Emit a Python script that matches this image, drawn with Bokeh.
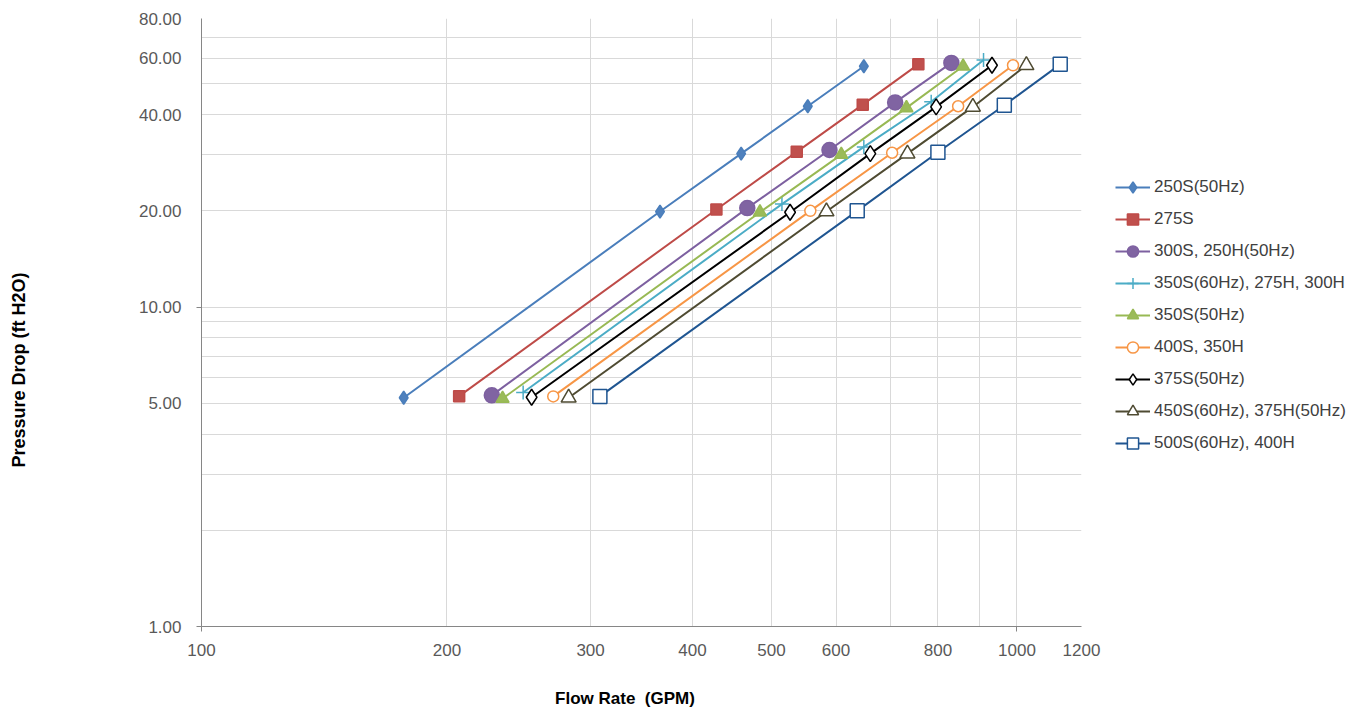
import math
from bokeh.plotting import figure
from bokeh.models import Range1d, FixedTicker, NumeralTickFormatter, Legend, LegendItem
from bokeh.embed import file_html
from bokeh.resources import INLINE

# ---- data ----
series_names = [
    "250S(50Hz)", "275S", "300S, 250H(50Hz)", "350S(60Hz), 275H, 300H",
    "350S(50Hz)", "400S, 350H", "375S(50Hz)", "450S(60Hz), 375H(50Hz)",
    "500S(60Hz), 400H",
]
flow_250S_50 = [177, 365, 459, 554, 649]
flow_275S = [207, 428, 537, 647, 757]
flow_300S = [227, 467, 589, 709, 831]
flow_350S_60 = [248, 515, 649, 785, 910]
flow_350S_50 = [234, 484, 609, 732, 859]
flow_400S = [270, 558, 703, 847, 989]
flow_375S_50 = [254, 527, 661, 796, 932]
flow_450S_60 = [282, 584, 734, 883, 1027]
flow_500S_60 = [308, 637, 800, 965, 1130]

dp_250S_50 = [5.20, 19.9, 30.2, 42.5, 56.7]
dp_275S = [5.26, 20.2, 30.6, 43.0, 57.5]
dp_300S = [5.29, 20.4, 31.0, 43.7, 58.1]
dp_350S_60 = [5.40, 21.0, 31.7, 43.9, 59.3]
dp_350S_50 = [5.17, 19.8, 30.0, 42.0, 56.7]
dp_400S = [5.25, 20.0, 30.4, 42.5, 57.1]
dp_375S_50 = [5.22, 19.8, 30.2, 42.3, 57.1]
dp_450S_60 = [5.20, 19.9, 30.2, 42.3, 57.1]
dp_500S_60 = [5.25, 20.0, 30.5, 42.8, 57.5]

x_tick_values = [100, 200, 300, 400, 500, 600, 800, 1000, 1200]
y_tick_values = [1, 5, 10, 20, 40, 60, 80]
x_grid_values = [200, 300, 400, 500, 600, 700, 800, 900, 1000, 1200]
y_grid_values = [2, 3, 4, 5, 6, 7, 8, 9, 10, 20, 30, 40, 50, 60, 70, 80]

x_title = "Flow Rate \u00a0(GPM)"
y_title = "Pressure Drop (ft H2O)"

flows = [flow_250S_50, flow_275S, flow_300S, flow_350S_60, flow_350S_50,
         flow_400S, flow_375S_50, flow_450S_60, flow_500S_60]
drops = [dp_250S_50, dp_275S, dp_300S, dp_350S_60, dp_350S_50,
         dp_400S, dp_375S_50, dp_450S_60, dp_500S_60]

# ---- styles ----
styles = [
    dict(color="#4A7EBB", marker="diamond", size=13, fill="#4F81BD"),
    dict(color="#BE4B48", marker="square", size=11, fill="#C0504D"),
    dict(color="#7D60A0", marker="circle", size=15, fill="#8064A2"),
    dict(color="#4BACC6", marker="cross", size=14, fill=None),
    dict(color="#98B954", marker="triangle", size=13, fill="#9BBB59"),
    dict(color="#F79646", marker="circle", size=11, fill="white"),
    dict(color="#000000", marker="diamond", size=16, fill="white"),
    dict(color="#4F4B32", marker="triangle", size=15, fill="white"),
    dict(color="#1F5591", marker="square", size=14, fill="white"),
]

p = figure(frame_width=880, frame_height=608, x_axis_type="log", y_axis_type="log",
           x_range=Range1d(100, 1200), y_range=Range1d(1, 80),
           output_backend="svg", toolbar_location=None,
           min_border_left=201, min_border_right=0,
           min_border_top=18, min_border_bottom=86)
p.outline_line_color = None
p.background_fill_color = "white"

# grids
p.xgrid.ticker = FixedTicker(ticks=x_grid_values)
p.ygrid.ticker = FixedTicker(ticks=y_grid_values)
for g in (p.xgrid, p.ygrid):
    g.grid_line_color = "#D9D9D9"
    g.grid_line_width = 1

# axes
p.xaxis.ticker = FixedTicker(ticks=x_tick_values, minor_ticks=[100, 1000])
p.yaxis.ticker = FixedTicker(ticks=y_tick_values, minor_ticks=[1, 10])
p.xaxis.formatter = NumeralTickFormatter(format="0")
p.yaxis.formatter = NumeralTickFormatter(format="0.00")
for ax in (p.xaxis, p.yaxis):
    ax.axis_line_color = "#868686"
    ax.axis_line_width = 1
    ax.major_tick_line_color = None
    ax.major_tick_out = 0
    ax.major_tick_in = 0
    ax.minor_tick_line_color = "#868686"
    ax.minor_tick_out = 5
    ax.minor_tick_in = 0
    ax.major_label_text_font = "Liberation Sans"
    ax.major_label_text_font_size = "17px"
    ax.major_label_text_color = "#595959"
    ax.axis_label_text_font = "Liberation Sans"
    ax.axis_label_text_font_style = "bold"
    ax.axis_label_text_color = "#000000"
p.xaxis.axis_label_text_font_size = "17px"
p.yaxis.axis_label_text_font_size = "18px"
p.xaxis.major_label_standoff = 12
p.yaxis.major_label_standoff = 15
# trailing no-break spaces shift the centred titles to where the reference has them
p.xaxis.axis_label = x_title + "\u00a0" * 7
p.yaxis.axis_label = y_title + "\u00a0" * 19
p.xaxis.axis_label_standoff = 30
p.yaxis.axis_label_standoff = 107

items = []
for name, fx, dy, st in zip(series_names, flows, drops, styles):
    lr = p.line(fx, dy, line_color=st["color"], line_width=2)
    if st["marker"] == "cross":
        sr = p.scatter(fx, dy, marker="cross", size=st["size"],
                       line_color=st["color"], line_width=1.5)
    else:
        sr = p.scatter(fx, dy, marker=st["marker"], size=st["size"],
                       line_color=st["color"], line_width=1.5,
                       fill_color=st["fill"])
    items.append(LegendItem(label=name, renderers=[lr, sr]))

legend = Legend(items=items, location=(34, 169), glyph_width=35,
                glyph_height=28, label_height=28, spacing=4, padding=0,
                margin=0, border_line_color=None, background_fill_alpha=0,
                label_standoff=4, label_text_font="Liberation Sans",
                label_text_font_size="17px", label_text_color="#404040")
p.add_layout(legend, "right")

open("out.html", "w").write(file_html(p, INLINE))
